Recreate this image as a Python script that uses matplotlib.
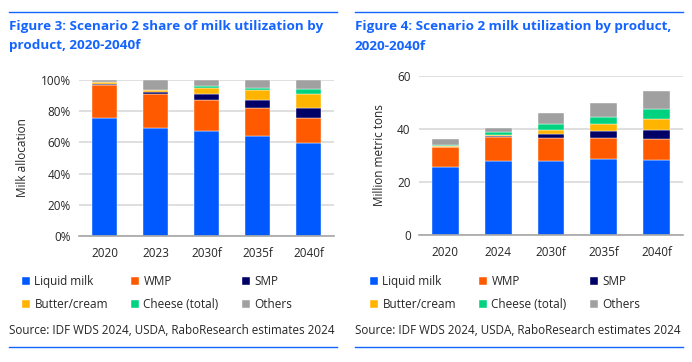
import matplotlib.pyplot as plt
import matplotlib.ticker as mticker
import numpy as np

plt.rcParams['font.family'] = ['Open Sans', 'DejaVu Sans']

# categories
products = ["Liquid milk", "WMP", "SMP", "Butter/cream", "Cheese (total)", "Others"]
colors = ["#0058FF", "#FF5A00", "#000066", "#FFB400", "#00D27F", "#A0A0A0"]

# Figure 3: share of milk utilization (%)
years_share = ["2020", "2023", "2030f", "2035f", "2040f"]
share_liquid = [75.5, 69.1, 67.2, 64.2, 59.3]
share_wmp = [21.1, 21.9, 20.0, 18.1, 16.4]
share_smp = [0.8, 1.3, 4.1, 5.1, 6.6]
share_butter = [1.2, 1.2, 3.8, 6.0, 9.0]
share_cheese = [0.1, 0.1, 1.1, 1.5, 2.8]
share_others = [1.3, 6.4, 3.8, 5.1, 5.9]

# Figure 4: milk utilization (million metric tons)
years_vol = ["2020", "2024", "2030f", "2035f", "2040f"]
vol_liquid = [25.5, 27.9, 28.1, 28.6, 28.4]
vol_wmp = [7.6, 9.0, 8.4, 8.15, 7.7]
vol_smp = [0.2, 0.3, 1.6, 2.35, 3.4]
vol_butter = [0.4, 0.4, 1.65, 2.6, 4.25]
vol_cheese = [0.1, 1.15, 1.95, 2.9, 3.95]
vol_others = [2.6, 1.65, 4.5, 5.1, 6.7]

W, H = 692, 362
fig = plt.figure(figsize=(W / 100, H / 100), dpi=100)

title_col = "#1464FF"
text_col = "#262626"


def px_axes(x0, y0, x1, y1):
    # pixel box (top-left origin) -> figure axes
    return fig.add_axes([x0 / W, 1 - y1 / H, (x1 - x0) / W, (y1 - y0) / H])


def draw(ax, cats, series, width, ylim, yticks, fmt, ylabel):
    x = np.arange(len(cats))
    bottom = np.zeros(len(cats))
    for vals, c, name in zip(series, colors, products):
        vals = np.array(vals, dtype=float)
        ax.bar(x, vals, width, bottom=bottom, color=c, label=name,
               edgecolor="white", linewidth=0.3, zorder=3)
        bottom += vals
    ax.set_xlim(-0.5, len(cats) - 0.5)
    ax.set_ylim(*ylim)
    ax.set_yticks(yticks)
    ax.yaxis.set_major_formatter(fmt)
    ax.set_xticks(x)
    ax.set_xticklabels(cats)
    ax.grid(axis="y", color="#D9D9D9", linewidth=1.2, zorder=0)
    for s in ["top", "right", "left"]:
        ax.spines[s].set_visible(False)
    ax.spines["bottom"].set_color("#A6A6A6")
    ax.spines["bottom"].set_linewidth(1.2)
    ax.spines["bottom"].set_zorder(4)
    ax.tick_params(length=0, labelsize=8.5, colors=text_col, pad=6)
    ax.tick_params(axis="x", pad=8)
    ax.set_ylabel(ylabel, fontsize=8.5, color=text_col, labelpad=8)


# left panel
ax1 = px_axes(79, 80, 334, 236)
draw(ax1, years_share,
     [share_liquid, share_wmp, share_smp, share_butter, share_cheese, share_others],
     0.49, (0, 100), [0, 20, 40, 60, 80, 100],
     mticker.FuncFormatter(lambda v, p: f"{v:.0f}%"), "Milk allocation")

# right panel
ax2 = px_axes(419, 76, 683, 235)
draw(ax2, years_vol,
     [vol_liquid, vol_wmp, vol_smp, vol_butter, vol_cheese, vol_others],
     0.505, (0, 60), [0, 20, 40, 60],
     mticker.FuncFormatter(lambda v, p: f"{v:.0f}"), "Million metric tons")

# titles, rules, legends and sources
panels = [
    (9, 337, "Figure 3: Scenario 2 share of milk utilization by\nproduct, 2020-2040f", ax1, 22),
    (355, 683, "Figure 4: Scenario 2 milk utilization by product,\n2020-2040f", ax2, 370),
]
order = [0, 3, 1, 4, 2, 5]  # row-major fill for 3 columns
for x0, x1, title, ax, lx in panels:
    fig.add_artist(plt.Line2D([x0 / W, x1 / W], [1 - 12 / H] * 2, color=title_col, lw=1))
    fig.add_artist(plt.Line2D([x0 / W, x1 / W], [1 - 347 / H] * 2, color=title_col, lw=1))
    fig.text(x0 / W, 1 - 20 / H, title, color=title_col, fontsize=9.7,
             fontweight="bold", va="top", ha="left", linespacing=1.65)
    fig.text(x0 / W, 1 - 330 / H, "Source: IDF WDS 2024, USDA, RaboResearch estimates 2024",
             color=text_col, fontsize=8.4, va="center", ha="left")
    h, l = ax.get_legend_handles_labels()
    ax.legend([h[i] for i in order], [l[i] for i in order], ncol=3, loc="upper left",
              bbox_to_anchor=(lx / W, 1 - 275 / H),
              bbox_transform=fig.transFigure, frameon=False, fontsize=8.5,
              handlelength=0.7, handleheight=0.7, handletextpad=0.35,
              columnspacing=1.95, labelspacing=0.85, borderaxespad=0, borderpad=0,
              labelcolor=text_col)

fig.savefig("out.png", dpi=100)
